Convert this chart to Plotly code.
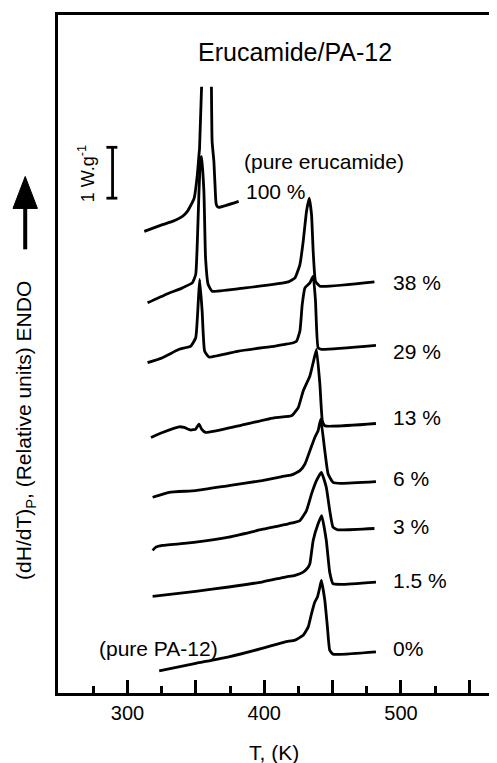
import plotly.graph_objects as go

# ---- data (T in K, signal in relative units, offset per sample) ----
T_100 = [312.3, 325.6, 332.9, 340.2, 343.8, 348.7, 351.1, 352.3, 352.7, 354.2, None,
         361.4, 361.9, 363.2, 364.4, 364.8, 365.6, 366.8, 381.3]
Y_100 = [463, 469.7, 473, 478, 483, 496, 520, 540, 546, 608, None,
         608, 553, 533, 498, 491, 488, 487, 493]

T_38 = [314.7, 328.1, 340.2, 347.4, 349.9, 351.1, 352.3, 353.5, 354.2, 355.9, 357.1, 359.0,
        361.9, 386.2, 417.6, 422.5, 426.1, 428.5, 430.9, 432.9, 434.6, 435.8, 437.5, 440.7, 480.6]
Y_38 = [391.3, 399.7, 406.3, 411.3, 419.7, 453, 503, 536.3, 538, 503, 436.3, 409.7,
        403, 406.3, 412.3, 416.3, 429.7, 453, 483, 496.3, 479.7, 443, 413, 408, 412.3]

T_29 = [314.7, 325.6, 337.8, 346.3, 349.9, 351.8, 352.8, 354.6, 356.4, 359.5, 381.3, 408.0,
        415.3, 421.3, 423.7, 426.1, 427.8, 429.8, 433.4, 435.8, 437.5, 439.4, 441.8, 481.7]
Y_29 = [331.3, 336.3, 344.7, 348, 356.3, 393, 414.7, 383, 343, 337, 343, 348,
        349.7, 351.3, 353, 363, 389.7, 406.3, 411.3, 418, 393, 346.3, 344.7, 348.7]

T_13 = [317.2, 325.6, 337.8, 341.4, 346.3, 349.9, 352.3, 354.2, 357.1, 381.3, 408.0, 420.0,
        424.9, 428.5, 433.4, 435.8, 438.2, 440.7, 442.5, 444.3, 481.7]
Y_13 = [256.3, 261.3, 267, 266.3, 263.7, 264.7, 269.7, 264.7, 261.3, 268, 276.3, 278,
        286.3, 303, 318, 331.3, 344.7, 309.7, 273, 268, 270.3]

T_6 = [318.4, 330.5, 349.9, 374.1, 398.3, 412.8, 420.0, 426.1, 429.8, 433.4, 437.0, 439.4,
       441.3, 444.3, 446.7, 450.3, 456.3, 481.7]
Y_6 = [196.3, 201.3, 203, 208, 213, 217, 218.7, 223, 229.7, 243, 256.3, 263,
       274.7, 243, 219.7, 211.3, 210.3, 212]

T_3 = [318.4, 320.8, 325.6, 349.9, 374.1, 398.3, 417.6, 426.1, 430.9, 434.6, 438.2, 441.8,
       445.4, 447.9, 450.3, 453.9, 480.6]
Y_3 = [143, 146.3, 148, 151.3, 156.3, 164, 169.7, 173, 183, 199.7, 213, 221.3,
       206.3, 183, 166.3, 163.7, 165]

T_15 = [318.4, 349.9, 374.1, 398.3, 415.3, 422.5, 428.5, 432.2, 433.4, 435.8, 439.4, 442.0,
        445.4, 447.9, 450.3, 456.3, 481.7]
Y_15 = [97, 102, 106.3, 111.3, 116.3, 118, 121.3, 126.3, 129.7, 153, 169.7, 178,
        153, 121, 109.7, 109, 111.3]

T_0 = [323.2, 349.9, 374.1, 398.3, 415.3, 422.5, 428.5, 432.2, 434.6, 437.0, 438.9, 440.7,
       441.8, 444.3, 446.2, 447.9, 450.3, 481.7]
Y_0 = [22.3, 29.7, 36.3, 44.7, 51.3, 53, 58, 66.3, 79.7, 91.3, 96.3, 106.3,
       113, 93, 66.3, 43, 39, 41.3]

series = [
    ("100 %", T_100, Y_100), ("38 %", T_38, Y_38), ("29 %", T_29, Y_29),
    ("13 %", T_13, Y_13), ("6 %", T_6, Y_6), ("3 %", T_3, Y_3),
    ("1.5 %", T_15, Y_15), ("0%", T_0, Y_0),
]

label_names = ["38 %", "29 %", "13 %", "6 %", "3 %", "1.5 %", "0%"]
label_y = [411.3, 343, 276.3, 214.7, 167, 113, 45]
label_T = 492.4

labeled_ticks = [300, 400, 500]
labeled_text = ["300", "400", "500"]
unlabeled_major_ticks = [350, 450, 550]
minor_ticks = [275, 325, 375, 425, 475, 525]
x_range = [249.2, 565.1]

FONT = "Liberation Sans, Arial, Helvetica, sans-serif"

fig = go.Figure()
for i, (name, t, y) in enumerate(series):
    fig.add_trace(go.Scatter(x=t, y=y, mode="lines", name=name,
                             xaxis="x2" if i == len(series) - 1 else "x",
                             line=dict(color="black", width=2.8, shape="spline", smoothing=0.4),
                             connectgaps=False, showlegend=False, hoverinfo="skip"))

for name, yy in zip(label_names, label_y):
    fig.add_annotation(x=label_T, y=yy, text=name, showarrow=False, xanchor="left",
                       yanchor="middle", font=dict(size=21, color="black", family=FONT))

fig.add_annotation(x=422.3, y=643, text="Erucamide/PA-12", showarrow=False,
                   xanchor="center", yanchor="middle",
                   font=dict(size=25, color="black", family=FONT))
fig.add_annotation(x=383.5, y=533, text="(pure erucamide)", showarrow=False, xanchor="left",
                   yanchor="middle", font=dict(size=21, color="black", family=FONT))
fig.add_annotation(x=385, y=503, text="100 %", showarrow=False, xanchor="left",
                   yanchor="middle", font=dict(size=21, color="black", family=FONT))
fig.add_annotation(x=277.5, y=44.7, text="(pure PA-12)", showarrow=False, xanchor="left",
                   yanchor="middle", font=dict(size=21, color="black", family=FONT))

# scale bar 1 W/g
fig.add_shape(type="line", x0=289.1, x1=289.1, y0=496.3, y1=547.3, line=dict(color="black", width=2.8))
fig.add_shape(type="line", x0=284.6, x1=292.6, y0=496.3, y1=496.3, line=dict(color="black", width=2.8))
fig.add_shape(type="line", x0=284.6, x1=292.6, y0=547.3, y1=547.3, line=dict(color="black", width=2.8))
fig.add_annotation(x=270.2, y=521, text="1 W.g<sup>-1</sup>", textangle=-90, showarrow=False,
                   xanchor="center", yanchor="middle",
                   font=dict(size=18, color="black", family=FONT))

# y-axis title and arrow
fig.add_annotation(xref="paper", yref="paper", x=-0.0759, y=0.3868,
                   text="(dH/dT)<sub>P</sub>, (Relative units) ENDO", textangle=-90,
                   xanchor="center", yanchor="middle",
                   showarrow=False, font=dict(size=21, color="black", family=FONT))
fig.add_shape(type="line", xref="paper", yref="paper", x0=-0.0759, x1=-0.0759,
              y0=0.6544, y1=0.72, line=dict(color="black", width=4))
fig.add_shape(type="path", xref="paper", yref="paper",
              path="M -0.1042,0.7147 L -0.0759,0.7618 L -0.0476,0.7147 Z",
              fillcolor="black", line=dict(color="black", width=1))

# x-axis title
fig.add_annotation(xref="paper", yref="paper", x=0.501, y=-0.088, text="T, (K)",
                   xanchor="center", yanchor="middle",
                   showarrow=False, font=dict(size=21, color="black", family=FONT))

fig.update_layout(
    width=489, height=755,
    margin=dict(l=50, r=4, t=5, b=70),
    paper_bgcolor="white", plot_bgcolor="white",
    font=dict(family=FONT, color="black"),
    xaxis=dict(range=x_range, tickmode="array", tickvals=labeled_ticks, ticktext=labeled_text,
               ticks="inside", ticklen=13, tickwidth=2.5, tickcolor="black",
               minor=dict(tickmode="array", tickvals=minor_ticks, ticks="inside", ticklen=7,
                          tickwidth=2.5, tickcolor="black", showgrid=False),
               showline=True, linewidth=2.5, linecolor="black", mirror=True,
               showgrid=False, zeroline=False, tickfont=dict(size=20, color="black", family=FONT)),
    xaxis2=dict(range=x_range, overlaying="x", anchor="y", side="bottom",
                tickmode="array", tickvals=unlabeled_major_ticks, showticklabels=False,
                ticks="inside", ticklen=13, tickwidth=2.5, tickcolor="black",
                showline=False, showgrid=False, zeroline=False),
    yaxis=dict(range=[0, 680], showticklabels=False, ticks="", showline=True, linewidth=2.5,
               linecolor="black", mirror=True, showgrid=False, zeroline=False),
)

fig.write_html("out.html")
